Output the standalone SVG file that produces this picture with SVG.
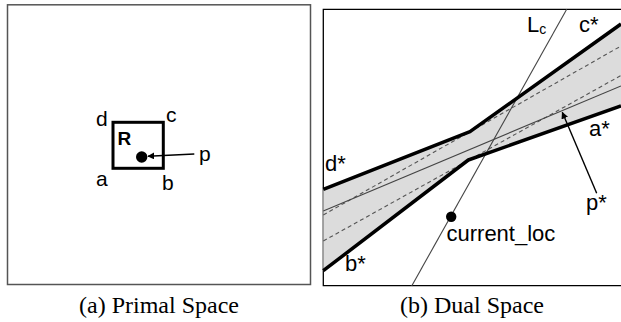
<svg xmlns="http://www.w3.org/2000/svg" width="621" height="322" viewBox="0 0 621 322">
<style>
.lbl{font-family:"Liberation Sans",Arial,sans-serif;font-size:21px;fill:#000}
.lbl2{font-family:"Liberation Sans",Arial,sans-serif;font-size:22px;fill:#000}
.cap{font-family:"Liberation Serif","Times New Roman",serif;font-size:24px;fill:#000;text-anchor:middle}
.thick{stroke:#000;stroke-width:3.5;fill:none;stroke-linejoin:round}
.thin{stroke:#444;stroke-width:1.1;fill:none}
.dash{stroke:#555;stroke-width:1.1;fill:none;stroke-dasharray:4 3}
.arrow{stroke:#000;stroke-width:1.4;fill:none;marker-end:url(#ah)}
</style>
<defs>
<marker id="ah" viewBox="0 0 10 10" refX="9" refY="5" markerWidth="7" markerHeight="7" markerUnits="userSpaceOnUse" orient="auto">
<path d="M0,0 L10,5 L0,10 z" fill="#000"/>
</marker>
</defs>
<rect width="621" height="322" fill="#fff"/>

<!-- Primal space -->
<g id="primal-frame">
<rect x="7.5" y="4.8" width="303" height="279.7" fill="none" stroke="#555" stroke-width="1.5"/>
</g>
<g id="rect-R">
<rect x="113" y="122.3" width="50.3" height="46" fill="none" stroke="#000" stroke-width="3"/>
<text class="lbl" x="117.5" y="145" style="font-weight:bold;font-size:19px">R</text>
</g>
<g id="corner-labels">
<text class="lbl" x="96" y="126">d</text>
<text class="lbl" x="166" y="122">c</text>
<text class="lbl" x="96" y="186">a</text>
<text class="lbl" x="162" y="190">b</text>
</g>
<g id="point-p">
<circle cx="141.7" cy="157" r="5.7" fill="#000"/>
<text class="lbl" x="199" y="161">p</text>
</g>

<!-- Dual space -->
<g id="dual-frame">
<path d="M623,9.3 H323.3 V285.7 H623" fill="none" stroke="#000" stroke-width="1.3"/>
</g>
<g id="double-wedge">
<polygon points="323.3,189.3 470,131.7 621,24 621,106 468.3,160 323.3,270.7" fill="#dcdcdc"/>
</g>
<g id="connectors">
<line class="dash" x1="323.3" y1="215" x2="621" y2="46"/>
<line class="dash" x1="323.3" y1="241" x2="621" y2="75.5"/>
<line class="thin" x1="323.3" y1="211" x2="621" y2="86"/>
<line class="thin" x1="411.7" y1="286" x2="566.7" y2="9.3"/>
<polyline class="thick" points="323.3,189.3 470,131.7 621,24"/>
<polyline class="thick" points="323.3,270.7 468.3,160 621,106"/>
<line class="arrow" x1="194.3" y1="154" x2="148" y2="156.2"/>
<line class="arrow" x1="596.7" y1="193.3" x2="562.3" y2="112.3"/>
</g>
<g id="dual-labels">
<text class="lbl2" x="527" y="32">L<tspan font-size="14" dy="2">c</tspan></text>
<text class="lbl2" x="579" y="32">c*</text>
<text class="lbl2" x="589" y="136">a*</text>
<text class="lbl2" x="325" y="171">d*</text>
<text class="lbl2" x="345" y="271">b*</text>
<text class="lbl2" x="586" y="210">p*</text>
</g>
<g id="current-loc">
<circle cx="451.2" cy="216.7" r="5.2" fill="#000"/>
<text class="lbl2" x="446.5" y="241">current_loc</text>
</g>

<g id="captions">
<text class="cap" x="159" y="313">(a) Primal Space</text>
<text class="cap" x="472" y="313">(b) Dual Space</text>
</g>
</svg>
